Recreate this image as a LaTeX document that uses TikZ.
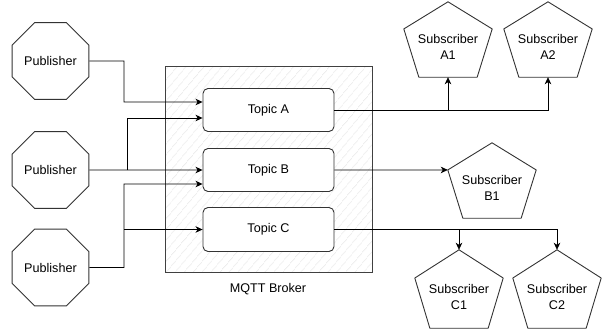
\documentclass[tikz,border=0pt]{standalone}
\usepackage{fontspec}
\setmainfont{Liberation Sans}
\usetikzlibrary{shapes.geometric,arrows.meta,calc,patterns.meta}

\tikzset{
  shapeline/.style={draw=black!80, line width=0.9pt},
  pub/.style={shapeline, regular polygon, regular polygon sides=8,
    minimum size=83pt, inner sep=0pt,
    font=\fontsize{12.6}{15}\selectfont},
  topic/.style={shapeline, rounded corners=5pt, fill=white,
    minimum width=131pt, minimum height=43pt, inner sep=0pt,
    font=\fontsize{12.6}{15}\selectfont},
  subbox/.style={minimum width=88pt, minimum height=75pt, inner sep=0pt},
  subtext/.style={align=center, inner sep=0pt,
    font=\fontsize{12.6}{16}\selectfont},
  arr/.style={draw=black, line width=0.8pt,
    -{Stealth[length=7pt,width=6.5pt,inset=2pt]}},
}

% pentagon outline drawn inside the box of a subscriber node
\newcommand{\pentagonof}[1]{%
  \draw[shapeline, line join=round] (#1.north)
    -- ($(#1.north east)!0.36!(#1.south east)$)
    -- ($(#1.south west)!0.83!(#1.south east)$)
    -- ($(#1.south west)!0.17!(#1.south east)$)
    -- ($(#1.north west)!0.36!(#1.south west)$) -- cycle;}

\begin{document}
\begin{tikzpicture}[x=1pt, y=-1pt]
\useasboundingbox (0,0) rectangle (608,332);

% broker area with hatching
\draw[black!75, line width=0.8pt,
  pattern={Lines[angle=50,distance=6.5pt,line width=0.45pt]},
  pattern color=black!11] (165,66) rectangle (372,272.5);
\node[font=\fontsize{12.6}{15}\selectfont] (brokerlabel) at (268,289) {MQTT Broker};

% topics
\node[topic] (TA) at (268.5,110) {Topic A};
\node[topic] (TB) at (268.5,170) {Topic B};
\node[topic, minimum height=44pt] (TC) at (268.5,229.5) {Topic C};

% publishers
\node[pub] (P1) at (50.5,61) {Publisher};
\node[pub] (P2) at (50.5,170) {Publisher};
\node[pub] (P3) at (50.5,267.5) {Publisher};

% subscribers
\node[subbox] (A1) at (448,39.5) {};
\node[subbox] (A2) at (548,39.5) {};
\node[subbox] (B1) at (492,180.5) {};
\node[subbox, minimum height=78pt] (C1) at (459,289) {};
\node[subbox, minimum height=78pt] (C2) at (557,289) {};
\pentagonof{A1}\pentagonof{A2}\pentagonof{B1}\pentagonof{C1}\pentagonof{C2}
\node[subtext] (A1t) at ([yshift=-7.5pt]A1.center) {Subscriber\\A1};
\node[subtext] (A2t) at ([yshift=-7.5pt]A2.center) {Subscriber\\A2};
\node[subtext] (B1t) at ([yshift=-7.5pt]B1.center) {Subscriber\\B1};
\node[subtext] (C1t) at ([yshift=-8pt]C1.center) {Subscriber\\C1};
\node[subtext] (C2t) at ([yshift=-8pt]C2.center) {Subscriber\\C2};

% junction points on the publisher lines
\coordinate (j1) at (124,61);
\coordinate (j2) at (127,170);
\coordinate (j3) at (124,267.5);
\coordinate (j3c) at (124,229.5);

% publishers to topics
\draw[arr] (P1.east) -- (j1) |- ([yshift=8pt]TA.west);
\draw[arr] (P2.east) -- (TB.west);
\draw[arr] (j2) |- ([yshift=-8pt]TA.west);
\draw[arr] (P3.east) -- (j3) |- ([yshift=-14pt]TB.west);
\draw[arr] (j3c) -- (TC.west);

% topics to subscribers
\draw[arr] (TA.east) -| (A2.south);
\draw[arr] (A1.south |- TA.east) -- (A1.south);
\draw[arr] (TB.east) -- ($(B1.north west)!0.36!(B1.south west)$);
\draw[arr] (TC.east) -| (C2.north);
\draw[arr] (C1.north |- TC.east) -- (C1.north);
\end{tikzpicture}
\end{document}
